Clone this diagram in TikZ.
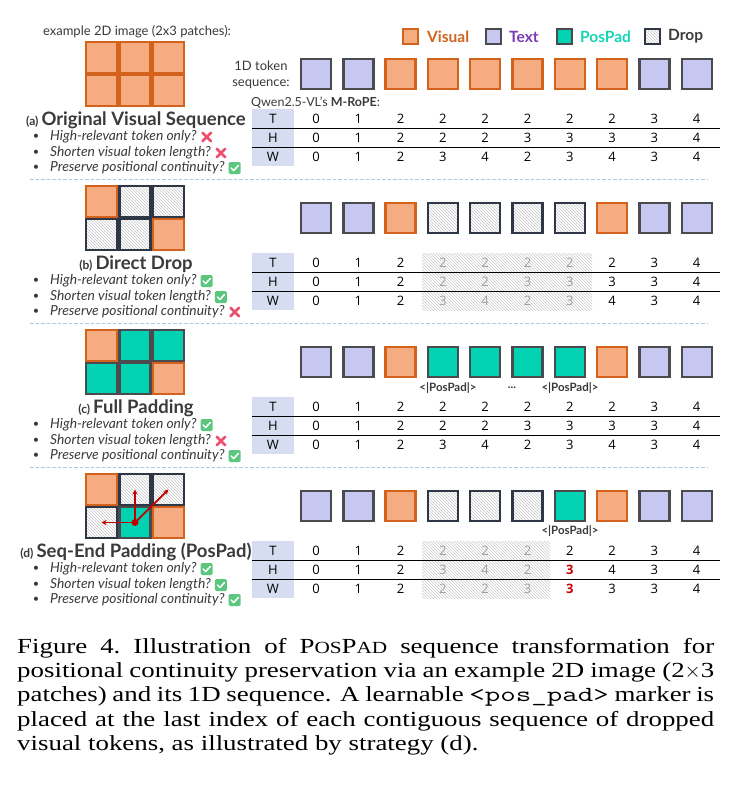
\documentclass[tikz,border=0pt]{standalone}
\usepackage{fontspec}
\setmainfont{Liberation Serif}[FakeStretch=1.25]
\newfontfamily\uifont{Lato}
\newfontfamily\numfont{Open Sans}
\usetikzlibrary{patterns,arrows.meta}

\definecolor{visfill}{HTML}{F4AC80}
\definecolor{visdraw}{HTML}{D2621C}
\definecolor{txtfill}{HTML}{C7C8F2}
\definecolor{txtdraw}{HTML}{4B4B4F}
\definecolor{padfill}{HTML}{00D2B2}
\definecolor{drpdraw}{HTML}{2F3645}
\definecolor{labbg}{HTML}{D6DDF1}
\definecolor{sepcol}{HTML}{A8CCDE}
\definecolor{nocol}{HTML}{EE4F6E}
\definecolor{yescol}{HTML}{5CC67E}
\definecolor{inkgray}{HTML}{3A3A3A}
\definecolor{legvis}{HTML}{D2621C}
\definecolor{legtxt}{HTML}{7B3AB8}
\definecolor{legpad}{HTML}{14D6B4}
\definecolor{arrowred}{HTML}{C00000}

\tikzset{
  tok/.style={minimum size=30pt, inner sep=0pt, line width=2.4pt},
  tokV/.style={tok, fill=visfill, draw=visdraw},
  tokT/.style={tok, fill=txtfill, draw=txtdraw},
  tokP/.style={tok, fill=padfill, draw=txtdraw},
  tokD/.style={tok, draw=drpdraw, preaction={fill=white},
               pattern=north west lines, pattern color=gray!45},
  cell/.style={minimum size=31pt},
  legsq/.style={minimum size=15pt, line width=2pt},
  legtext/.style={font=\uifont\bfseries\fontsize{15.5}{17}\selectfont, anchor=west, inner sep=0pt},
  num/.style={font=\numfont\fontsize{13}{15}\selectfont, text=black, inner sep=0pt},
  numdim/.style={num, text=gray!75},
  numred/.style={num, font=\numfont\bfseries\fontsize{13}{15}\selectfont, text=red!80!black},
  lab/.style={num},
  rule/.style={line width=1.2pt, black},
  sep/.style={draw=sepcol, line width=1pt, dash pattern=on 3.5pt off 2pt},
  titlef/.style={font=\uifont\bfseries\fontsize{18.5}{20}\selectfont, text=inkgray, inner sep=0pt},
  bq/.style={font=\uifont\itshape\fontsize{13.8}{16}\selectfont, text=inkgray, anchor=west, inner sep=0pt},
  bdot/.style={font=\uifont\fontsize{11}{13}\selectfont, text=inkgray, inner sep=0pt},
  tag/.style={font=\uifont\bfseries\fontsize{11.5}{13}\selectfont, text=inkgray, inner sep=0pt},
  small/.style={font=\uifont\fontsize{13}{15}\selectfont, text=inkgray, inner sep=0pt},
  redarr/.style={draw=arrowred, line width=1.8pt, -{Stealth[length=5pt,width=5pt]}},
  iconno/.pic={\draw[nocol, line width=2.6pt, line cap=round]
                 (-4.2,-4.2) -- (4.2,4.2) (-4.2,4.2) -- (4.2,-4.2);},
  iconyes/.pic={\fill[yescol, rounded corners=1.5pt] (-6,-6) rectangle (6,6);
                \draw[white, line width=1.5pt, line cap=round, line join=round]
                 (-3.6,0) -- (-1,2.6) -- (3.6,-2.6);},
}

% 2x3 patch grid: id, centre y of the top row, six token styles
\newcommand\patchgrid[3]{%
  \foreach \s [count=\i] in {#3}{%
    \pgfmathtruncatemacro\gcol{mod(\i-1,3)}%
    \pgfmathtruncatemacro\grow{(\i-1)/3}%
    \node[\s, cell] (#1-\i) at ({101.5+33.5*\gcol}, {#2+33*\grow}) {};
  }}
% 1D token sequence: id, centre y, ten token styles
\newcommand\tokrow[3]{%
  \foreach \s [count=\i] in {#3}{%
    \node[\s] (#1-\i) at ({316+42.3*(\i-1)}, #2) {};
  }}
% one row of position ids: id, centre y, style/value pairs
\newcommand\valrow[3]{%
  \foreach \s/\v [count=\i] in {#3}{%
    \node[\s] (#1-\i) at ({316+42.3*(\i-1)}, #2) {\v};
  }}
% label column and rules of the T/H/W table: id, y of the T row
\newcommand\ropeframe[2]{%
  \fill[labbg] (252,#2-10) rectangle (294,#2+47);
  \node[lab] (#1-T) at (273,#2) {T};
  \node[lab] (#1-H) at (273,#2+19) {H};
  \node[lab] (#1-W) at (273,#2+38) {W};
  \draw[rule] (252,#2+9.5) -- (720,#2+9.5);
  \draw[rule] (252,#2+28.5) -- (720,#2+28.5);
}
% three questions with their verdict icons: id, y of the title, three icons
\newcommand\checklist[5]{%
  \node[bdot] (#1-d1) at (36,#2+18) {•};
  \node[bdot] (#1-d2) at (36,#2+34) {•};
  \node[bdot] (#1-d3) at (36,#2+49) {•};
  \node[bq] (#1-q1) at (50,#2+18) {High-relevant token only?};
  \node[bq] (#1-q2) at (50,#2+34) {Shorten visual token length?};
  \node[bq] (#1-q3) at (50,#2+49) {Preserve positional continuity?};
  \pic at ([xshift=10pt]#1-q1.east) {#3};
  \pic at ([xshift=10pt]#1-q2.east) {#4};
  \pic at ([xshift=10pt]#1-q3.east) {#5};
}

\begin{document}
\begin{tikzpicture}[x=1pt,y=-1pt]
\fill[white] (0,0) rectangle (741,807);
\useasboundingbox (0,0) rectangle (741,807);

% ---------- header: legend and captions ----------
\node[small] (ex-lbl) at (137,32) {example 2D image (2x3 patches):};
\node[small, align=center, font=\uifont\fontsize{13}{16}\selectfont] (seq-lbl) at (261,75) {1D token\\sequence:};

\node[tokV, legsq] (lg-v) at (410.5,36) {};
\node[legtext, text=legvis] (lg-vt) at (427,36.5) {Visual};
\node[tokT, legsq] (lg-t) at (493,36) {};
\node[legtext, text=legtxt] (lg-tt) at (509,36.5) {Text};
\node[tokP, legsq] (lg-p) at (564,36) {};
\node[legtext, text=legpad] (lg-pt) at (580,36.5) {PosPad};
\node[tokD, legsq] (lg-d) at (652,36) {};
\node[legtext, text=inkgray] (lg-dt) at (668,36.5) {Drop};

% ---------- (a) original visual sequence ----------
\patchgrid{ga}{57.5}{tokV,tokV,tokV,tokV,tokV,tokV}
\tokrow{sa}{74}{tokT,tokT,tokV,tokV,tokV,tokV,tokV,tokV,tokT,tokT}
\node[small, anchor=west, font=\uifont\fontsize{12.5}{14}\selectfont] (rope-lbl) at (251,103) {Qwen2.5-VL’s \textbf{M-RoPE}:};
\ropeframe{ta}{119}
\valrow{ta-t}{119}{num/0,num/1,num/2,num/2,num/2,num/2,num/2,num/2,num/3,num/4}
\valrow{ta-h}{138}{num/0,num/1,num/2,num/2,num/2,num/3,num/3,num/3,num/3,num/4}
\valrow{ta-w}{157}{num/0,num/1,num/2,num/3,num/4,num/2,num/3,num/4,num/3,num/4}
\node[titlef] (ttl-a) at (136,120) {{\fontsize{12}{14}\selectfont (a)}\,Original Visual Sequence};
\checklist{ca}{119}{iconno}{iconno}{iconyes}
\draw[sep] (30,179) -- (708,179);

% ---------- (b) direct drop ----------
\patchgrid{gb}{201.5}{tokV,tokD,tokD,tokD,tokD,tokV}
\tokrow{sb}{218}{tokT,tokT,tokV,tokD,tokD,tokD,tokD,tokV,tokT,tokT}
\fill[pattern=north west lines, pattern color=gray!40] (422,253) rectangle (592,310);
\ropeframe{tb}{263}
\valrow{tb-t}{263}{num/0,num/1,num/2,numdim/2,numdim/2,numdim/2,numdim/2,num/2,num/3,num/4}
\valrow{tb-h}{282}{num/0,num/1,num/2,numdim/2,numdim/2,numdim/3,numdim/3,num/3,num/3,num/4}
\valrow{tb-w}{301}{num/0,num/1,num/2,numdim/3,numdim/4,numdim/2,numdim/3,num/4,num/3,num/4}
\node[titlef] (ttl-b) at (136,264) {{\fontsize{12}{14}\selectfont (b)}\,Direct Drop};
\checklist{cb}{263}{iconyes}{iconyes}{iconno}
\draw[sep] (30,323) -- (708,323);

% ---------- (c) full padding ----------
\patchgrid{gc}{345.5}{tokV,tokP,tokP,tokP,tokP,tokV}
\tokrow{sc}{362}{tokT,tokT,tokV,tokP,tokP,tokP,tokP,tokV,tokT,tokT}
\node[tag] (tag-c1) at (448,388) {<|PosPad|>};
\node[tag] (tag-c2) at (512,388) {...};
\node[tag] (tag-c3) at (570,388) {<|PosPad|>};
\ropeframe{tc}{407}
\valrow{tc-t}{407}{num/0,num/1,num/2,num/2,num/2,num/2,num/2,num/2,num/3,num/4}
\valrow{tc-h}{426}{num/0,num/1,num/2,num/2,num/2,num/3,num/3,num/3,num/3,num/4}
\valrow{tc-w}{445}{num/0,num/1,num/2,num/3,num/4,num/2,num/3,num/4,num/3,num/4}
\node[titlef] (ttl-c) at (136,408) {{\fontsize{12}{14}\selectfont (c)}\,Full Padding};
\checklist{cc}{407}{iconyes}{iconno}{iconyes}
\draw[sep] (30,467) -- (708,467);

% ---------- (d) seq-end padding ----------
\patchgrid{gd}{489.5}{tokV,tokD,tokD,tokD,tokP,tokV}
\draw[redarr] (gd-5.center) -- (gd-4.center);
\draw[redarr] (gd-5.center) -- (gd-2.center);
\draw[redarr] (gd-5.center) -- (gd-3.center);
\fill[arrowred] (gd-5.center) circle (3.5pt);
\tokrow{sd}{506}{tokT,tokT,tokV,tokD,tokD,tokD,tokP,tokV,tokT,tokT}
\node[tag] (tag-d1) at (570,531) {<|PosPad|>};
\fill[pattern=north west lines, pattern color=gray!40] (422,541) rectangle (550,598);
\ropeframe{td}{551}
\valrow{td-t}{551}{num/0,num/1,num/2,numdim/2,numdim/2,numdim/2,num/2,num/2,num/3,num/4}
\valrow{td-h}{570}{num/0,num/1,num/2,numdim/3,numdim/4,numdim/2,numred/3,num/4,num/3,num/4}
\valrow{td-w}{589}{num/0,num/1,num/2,numdim/2,numdim/2,numdim/3,numred/3,num/3,num/3,num/4}
\node[titlef] (ttl-d) at (136,552) {{\fontsize{12}{14}\selectfont (d)}\,Seq-End Padding (PosPad)};
\checklist{cd}{551}{iconyes}{iconyes}{iconyes}

% ---------- caption ----------
\node[anchor=north west, inner sep=0pt, text width=697pt, align=justify,
      font=\fontsize{21.5}{24.3}\selectfont] (cap) at (17,638)
  {Figure 4.\hspace{0.6em}Illustration of P{\fontsize{17}{0}\selectfont OS}P{\fontsize{17}{0}\selectfont AD} sequence transformation for\linebreak
   positional continuity preservation via an example 2D image (2$\times$3\linebreak
   patches) and its 1D sequence. A learnable \scalebox{1.4}[1]{\ttfamily <pos\_pad>} marker is\linebreak
   placed at the last index of each contiguous sequence of dropped\linebreak
   visual tokens, as illustrated by strategy (d).};
\end{tikzpicture}
\end{document}
